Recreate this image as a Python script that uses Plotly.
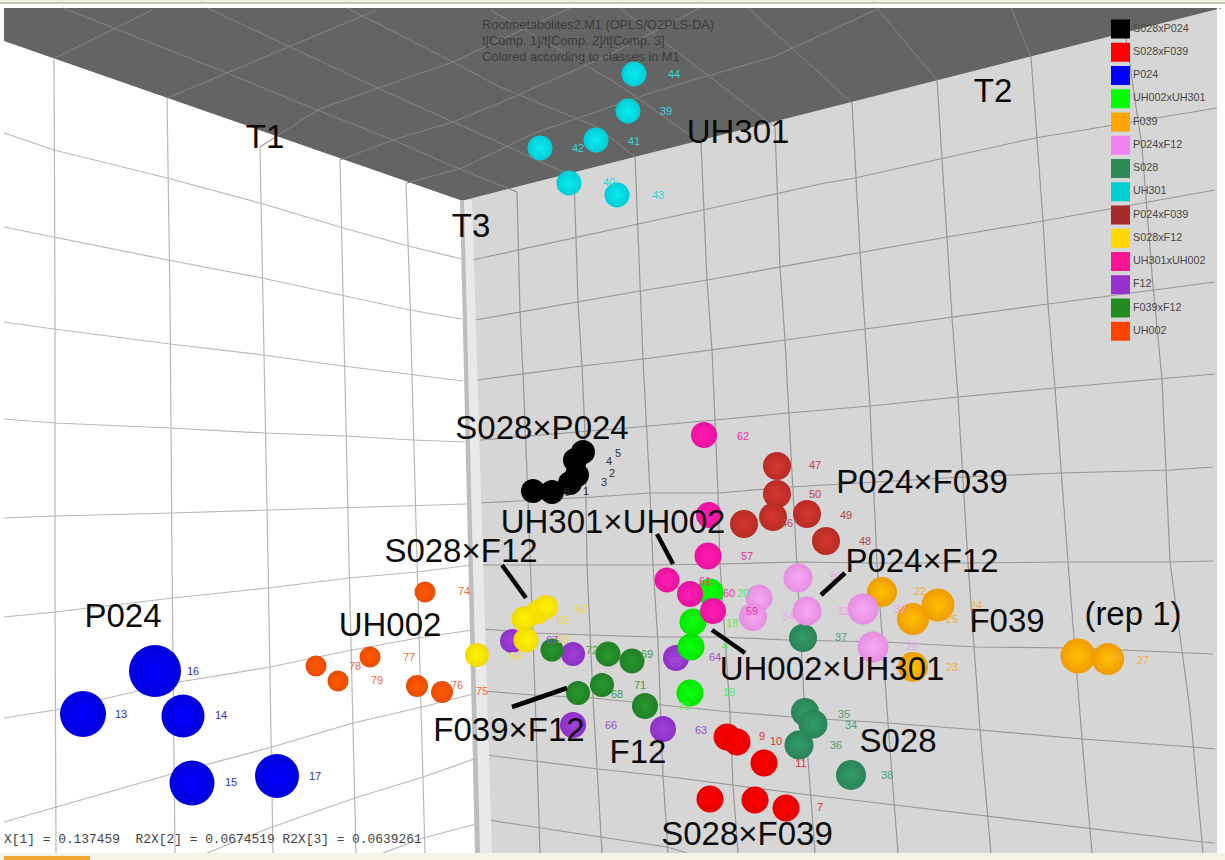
import plotly.graph_objects as go

# ---------- picture-space readings (x to the right, y downwards) ----------
classes = ["S028xP024", "S028xF039", "P024", "UH002xUH301", "F039", "P024xF12", "S028",
           "UH301", "P024xF039", "S028xF12", "UH301xUH002", "F12", "F039xF12", "UH002"]
legend_colors = ["#000000", "#FF0000", "#0000FF", "#00FF00", "#FFA500", "#EE82EE", "#2E8B57",
                 "#00CED1", "#A52A2A", "#FFD700", "#FF1493", "#9932CC", "#228B22", "#FF4500"]
legend_x = [1120.5] * 14
legend_y = [29 + 23.25 * i for i in range(14)]

sphere_center = {"S028xP024": "#000000", "S028xF039": "#ff0000", "P024": "#0000ff",
                 "UH002xUH301": "#10ff10", "F039": "#ffc000", "P024xF12": "#f8a8f4",
                 "S028": "#329c6a", "UH301": "#08ecf0", "P024xF039": "#d6362e",
                 "S028xF12": "#fff400", "UH301xUH002": "#ff1cb4", "F12": "#a040dc",
                 "F039xF12": "#27982c", "UH002": "#ff5a00"}
sphere_edge = {"S028xP024": "#000000", "S028xF039": "#e80000", "P024": "#0000dc",
               "UH002xUH301": "#00e800", "F039": "#f09c00", "P024xF12": "#e68ee2",
               "S028": "#2a8458", "UH301": "#00ccd6", "P024xF039": "#b82c26",
               "S028xF12": "#f2da00", "UH301xUH002": "#ea12a0", "F12": "#8e30c4",
               "F039xF12": "#208026", "UH002": "#ea4c00"}
label_color = {"S028xP024": "#333333", "S028xF039": "#e83030", "P024": "#3030c8",
               "UH002xUH301": "#50f050", "F039": "#f4b040", "P024xF12": "#f0a0e8",
               "S028": "#4f9f78", "UH301": "#30d8dc", "P024xF039": "#b04848",
               "S028xF12": "#f0d840", "UH301xUH002": "#f030a8", "F12": "#a050d0",
               "F039xF12": "#449a4a", "UH002": "#f06838"}

S028xP024_x = [533, 552, 570, 577, 575, 583]
S028xP024_y = [491, 492, 483, 475, 460, 452]
S028xP024_d = [24, 24, 24, 24, 24, 24]
S028xP024_lx = [567, 586, 604, 612, 609, 618]
S028xP024_ly = [493, 492, 483, 474, 462, 454]
S028xP024_lt = ["6", "1", "3", "2", "4", "5"]

S028xF039_x = [727, 737, 764, 710, 755, 786]
S028xF039_y = [737, 742, 763, 799, 800, 808]
S028xF039_d = [27, 27, 27, 27, 27, 27]
S028xF039_lx = [762, 776, 801, 820]
S028xF039_ly = [737, 742, 764, 808]
S028xF039_lt = ["9", "10", "11", "7"]

P024_x = [155, 83, 183, 192, 277]
P024_y = [671, 714, 716, 783, 776]
P024_d = [52, 46, 43, 45, 44]
P024_lx = [193, 121, 221, 231, 315]
P024_ly = [672, 715, 716, 783, 777]
P024_lt = ["16", "13", "14", "15", "17"]

UH002xUH301_x = [710, 693, 691, 690]
UH002xUH301_y = [592, 622, 647, 693]
UH002xUH301_d = [27, 27, 27, 27]
UH002xUH301_lx = [743, 732, 725, 729, 684]
UH002xUH301_ly = [594, 624, 647, 693, 707]
UH002xUH301_lt = ["20", "18", "4", "19", "70"]

F039_x = [882, 938, 913, 913, 1078, 1108]
F039_y = [592, 605, 619, 667, 656, 659]
F039_d = [30, 33, 32, 30, 35, 32]
F039_lx = [920, 976, 952, 952, 1117, 1143]
F039_ly = [592, 606, 620, 668, 657, 661]
F039_lt = ["22", "24", "25", "23", "26", "27"]

P024xF12_x = [759, 753, 798, 807, 863, 873]
P024xF12_y = [598, 617, 578, 611, 609, 647]
P024xF12_d = [27, 28, 29, 29, 31, 31]
P024xF12_lx = [788, 835, 843, 900, 912]
P024xF12_ly = [617, 578, 612, 610, 647]
P024xF12_lt = ["34", "30", "33", "32", "29"]

S028_x = [803, 805, 813, 799, 851]
S028_y = [638, 712, 724, 745, 775]
S028_d = [28, 28, 29, 29, 30]
S028_lx = [841, 844, 851, 836, 887]
S028_ly = [638, 715, 726, 746, 776]
S028_lt = ["37", "35", "34", "36", "38"]

UH301_x = [634, 628, 596, 540, 569, 617]
UH301_y = [74, 111, 140, 148, 183, 195]
UH301_d = [25, 25, 25, 25, 25, 25]
UH301_lx = [674, 666, 634, 578, 609, 658]
UH301_ly = [75, 112, 142, 149, 183, 196]
UH301_lt = ["44", "39", "41", "42", "40", "43"]

P024xF039_x = [777, 777, 773, 744, 807, 826]
P024xF039_y = [466, 494, 517, 524, 514, 541]
P024xF039_d = [28, 28, 28, 28, 28, 28]
P024xF039_lx = [815, 815, 846, 865, 787]
P024xF039_ly = [466, 495, 516, 542, 524]
P024xF039_lt = ["47", "50", "49", "48", "46"]

S028xF12_x = [538, 546, 524, 526, 477]
S028xF12_y = [612, 607, 619, 640, 655]
S028xF12_d = [24, 24, 25, 25, 24]
S028xF12_lx = [582, 563, 516, 563]
S028xF12_ly = [610, 621, 657, 640]
S028xF12_lt = ["52", "55", "54", "53"]

UH301xUH002_x = [704, 709, 708, 667, 690, 713]
UH301xUH002_y = [435, 515, 556, 580, 594, 611]
UH301xUH002_d = [26, 26, 27, 25, 26, 26]
UH301xUH002_lx = [743, 747, 705, 729, 752]
UH301xUH002_ly = [437, 557, 582, 594, 612]
UH301xUH002_lt = ["62", "57", "61", "60", "59"]

F12_x = [512, 573, 676, 573, 663]
F12_y = [641, 654, 658, 725, 729]
F12_d = [24, 24, 26, 26, 26]
F12_lx = [715, 611, 701, 552, 676]
F12_ly = [658, 726, 731, 641, 663]
F12_lt = ["64", "66", "63", "67", "65"]

F039xF12_x = [552, 608, 632, 578, 602, 645]
F039xF12_y = [650, 654, 661, 693, 685, 706]
F039xF12_d = [23, 25, 25, 24, 24, 26]
F039xF12_lx = [592, 647, 617, 640]
F039xF12_ly = [651, 655, 695, 686]
F039xF12_lt = ["72", "69", "68", "71"]

UH002_x = [425, 316, 370, 338, 417, 442]
UH002_y = [592, 666, 657, 681, 686, 692]
UH002_d = [21, 21, 21, 21, 22, 22]
UH002_lx = [464, 355, 409, 377, 457, 482]
UH002_ly = [592, 667, 658, 681, 686, 692]
UH002_lt = ["74", "78", "77", "79", "76", "75"]

points = {
    "S028xP024": (S028xP024_x, S028xP024_y, S028xP024_d, S028xP024_lx, S028xP024_ly, S028xP024_lt),
    "S028xF039": (S028xF039_x, S028xF039_y, S028xF039_d, S028xF039_lx, S028xF039_ly, S028xF039_lt),
    "P024": (P024_x, P024_y, P024_d, P024_lx, P024_ly, P024_lt),
    "UH002xUH301": (UH002xUH301_x, UH002xUH301_y, UH002xUH301_d, UH002xUH301_lx, UH002xUH301_ly, UH002xUH301_lt),
    "F039": (F039_x, F039_y, F039_d, F039_lx, F039_ly, F039_lt),
    "P024xF12": (P024xF12_x, P024xF12_y, P024xF12_d, P024xF12_lx, P024xF12_ly, P024xF12_lt),
    "S028": (S028_x, S028_y, S028_d, S028_lx, S028_ly, S028_lt),
    "UH301": (UH301_x, UH301_y, UH301_d, UH301_lx, UH301_ly, UH301_lt),
    "P024xF039": (P024xF039_x, P024xF039_y, P024xF039_d, P024xF039_lx, P024xF039_ly, P024xF039_lt),
    "S028xF12": (S028xF12_x, S028xF12_y, S028xF12_d, S028xF12_lx, S028xF12_ly, S028xF12_lt),
    "UH301xUH002": (UH301xUH002_x, UH301xUH002_y, UH301xUH002_d, UH301xUH002_lx, UH301xUH002_ly, UH301xUH002_lt),
    "F12": (F12_x, F12_y, F12_d, F12_lx, F12_ly, F12_lt),
    "F039xF12": (F039xF12_x, F039xF12_y, F039xF12_d, F039xF12_lx, F039xF12_ly, F039xF12_lt),
    "UH002": (UH002_x, UH002_y, UH002_d, UH002_lx, UH002_ly, UH002_lt),
}
draw_order = ["UH301", "P024", "UH002", "S028xP024", "S028xF039", "S028", "P024xF039", "F12",
              "F039xF12", "S028xF12", "F039", "P024xF12", "UH002xUH301", "UH301xUH002"]

# ---------- box walls ----------
ceiling_x = [4, 1222, 465, 460, 4]
ceiling_y = [8, 8, 200, 200, 41]
left_wall_x = [4, 460, 478, 478, 4]
left_wall_y = [41, 200, 200, 853, 853]
right_wall_x = [465, 1222, 1217, 1217, 480]
right_wall_y = [200, 8, 8, 853, 853]
pillar_x = [462, 472, 492, 476]
pillar_y = [200, 200, 853, 853]
pillar_dark_x = [460, 464, 480, 475]
pillar_dark_y = [200, 200, 853, 853]

left_grid = [
    [(4, 133), (54, 150), (167, 178), (260, 203), (340, 227), (408, 246), (462, 259)],
    [(4, 227), (54, 237), (168, 260), (262, 278), (342, 295), (410, 310), (462, 319)],
    [(4, 322), (54, 329), (170, 344), (263, 355), (343, 366), (410, 374), (463, 381)],
    [(4, 419), (55, 423), (170, 428), (265, 433), (345, 436), (413, 440), (465, 442)],
    [(4, 518), (55, 516), (172, 513), (267, 510), (347, 508), (415, 506), (467, 504)],
    [(4, 617), (55, 612), (173, 598), (268, 588), (349, 578), (417, 572), (472, 565)],
    [(4, 718), (55, 710), (173, 683), (270, 667), (352, 650), (418, 638), (473, 630)],
    [(4, 822), (56, 807), (175, 773), (272, 747), (353, 723), (422, 707), (477, 693)],
    [(207, 853), (272, 827), (355, 798), (423, 777), (477, 758)],
    [(383, 853), (423, 838), (480, 823)],
    [(54, 58), (55, 300), (55, 600), (56, 853)],
    [(167, 98), (170, 300), (172, 560), (175, 853)],
    [(260, 147), (263, 300), (268, 560), (273, 853)],
    [(340, 160), (343, 300), (349, 560), (356, 853)],
    [(406, 183), (410, 300), (417, 560), (425, 853)],
]
right_grid = [
    [(472, 260), (575, 238), (637, 224), (703, 210), (825, 183), (855, 178), (940, 159), (1035, 138), (1217, 108)],
    [(475, 320), (520, 312), (578, 302), (640, 291), (707, 280), (780, 267), (860, 252), (947, 237), (1043, 221), (1215, 190)],
    [(477, 380), (523, 374), (582, 366), (643, 359), (712, 350), (785, 340), (865, 329), (952, 317), (1048, 304), (1215, 282)],
    [(480, 440), (627, 428), (715, 420), (788, 413), (870, 406), (958, 397), (1055, 388), (1162, 379), (1215, 374)],
    [(480, 503), (593, 497), (650, 493), (718, 493), (790, 487), (873, 482), (962, 477), (1062, 473), (1170, 470), (1213, 467)],
    [(483, 565), (587, 565), (653, 565), (720, 564), (797, 562), (877, 563), (968, 563), (1068, 562), (1170, 562), (1213, 561)],
    [(483, 629), (533, 633), (590, 635), (653, 637), (720, 637), (787, 640), (883, 642), (977, 647), (1075, 648), (1213, 654)],
    [(483, 691), (533, 695), (593, 698), (660, 705), (730, 712), (805, 718), (888, 723), (980, 730), (1082, 739), (1193, 747), (1215, 749)],
    [(486, 755), (598, 769), (663, 776), (733, 785), (810, 795), (895, 805), (987, 816), (1090, 829), (1203, 842), (1215, 843)],
    [(488, 820), (600, 837), (667, 847), (687, 853)],
    [(517, 192), (520, 312), (523, 374), (527, 473), (535, 693), (540, 853)],
    [(574, 177), (578, 302), (582, 366), (585, 433), (587, 565), (593, 698), (602, 853)],
    [(635, 157), (640, 291), (643, 359), (650, 493), (653, 565), (658, 643), (663, 776), (668, 853)],
    [(701, 143), (707, 280), (712, 350), (718, 493), (720, 564), (730, 712), (733, 785), (738, 853)],
    [(775, 127), (780, 267), (785, 340), (793, 487), (797, 562), (805, 718), (815, 853)],
    [(852, 103), (860, 252), (865, 329), (870, 406), (877, 563), (888, 723), (898, 853)],
    [(937, 80), (947, 237), (952, 317), (958, 397), (968, 563), (980, 730), (991, 853)],
    [(1031, 57), (1043, 221), (1048, 304), (1055, 388), (1068, 562), (1082, 739), (1092, 853)],
    [(1125, 32), (1142, 147), (1153, 286), (1162, 379), (1170, 562), (1190, 710), (1203, 853)],
]
ceiling_grid = [
    [(63, 8), (113, 28), (227, 73), (317, 110), (393, 140), (450, 165), (517, 192)],
    [(207, 8), (290, 47), (378, 88), (453, 122), (500, 143), (574, 177)],
    [(347, 8), (453, 62), (500, 87), (597, 127), (635, 157)],
    [(490, 10), (560, 50), (619, 85), (701, 143)],
    [(620, 8), (775, 127)],
    [(748, 8), (852, 103)],
    [(877, 8), (937, 80)],
    [(1011, 8), (1031, 57)],
    [(55, 58), (152, 10)],
    [(167, 98), (227, 73), (290, 47), (377, 10)],
    [(260, 147), (317, 110), (378, 88), (453, 62), (500, 40), (570, 8)],
    [(340, 160), (393, 140), (453, 122), (500, 103), (609, 55), (700, 8)],
    [(407, 183), (462, 168), (535, 133), (659, 90), (773, 57), (880, 8)],
]

# ---------- texts ----------
big_text = ["T1", "T2", "T3", "UH301", "S028×P024", "P024×F039", "UH301×UH002", "S028×F12",
            "P024×F12", "F039", "(rep 1)", "P024", "UH002", "UH002×UH301", "F039×F12", "F12",
            "S028", "S028×F039"]
big_x = [265, 993, 471, 738, 542, 922, 613, 461, 922, 1007, 1133, 123, 390, 832, 509, 638, 898, 747]
big_y = [140, 94, 229, 135, 431, 485, 525, 554, 564, 624, 617, 619, 628, 672, 733, 755, 744, 837]

leaders = [
    [(502, 565), (526, 598)],
    [(657, 534), (673, 564)],
    [(712, 630), (745, 653)],
    [(512, 707), (567, 688)],
    [(821, 595), (845, 573)],
]
header_lines = ["Rootmetabolites2.M1 (OPLS/O2PLS-DA)", "t[Comp. 1]/t[Comp. 2]/t[Comp. 3]",
                "Colored according to classes in M1"]
header_x = [482, 482, 482]
header_y = [26, 42, 58]
footer_text = ["X[1] = 0.137459  R2X[2] = 0.0674519 R2X[3] = 0.0639261"]
footer_x = [4]
footer_y = [840]


def flatten(lines):
    xs, ys = [], []
    for line in lines:
        xs += [p[0] for p in line] + [None]
        ys += [p[1] for p in line] + [None]
    return xs, ys


fig = go.Figure()


def panel(xs, ys, color):
    fig.add_trace(go.Scatter(x=xs, y=ys, mode="lines", fill="toself", fillcolor=color,
                             line=dict(width=0, color=color), hoverinfo="skip"))


def grid(lines, color, width):
    xs, ys = flatten(lines)
    fig.add_trace(go.Scatter(x=xs, y=ys, mode="lines", line=dict(color=color, width=width),
                             hoverinfo="skip", connectgaps=False))


panel(left_wall_x, left_wall_y, "#ffffff")
panel(right_wall_x, right_wall_y, "#d6d6d6")
panel(ceiling_x, ceiling_y, "#646464")
grid(left_grid, "#b8b8b8", 1.2)
grid(right_grid, "#989898", 1.2)
grid(ceiling_grid, "#828282", 1.0)
panel(pillar_x, pillar_y, "#e9e9e9")
panel(pillar_dark_x, pillar_dark_y, "#bdbdbd")

for name in draw_order:
    px, py, pd, _, _, _ = points[name]
    fig.add_trace(go.Scatter(
        x=px, y=py, mode="markers", name=name,
        marker=dict(size=pd, opacity=1, color=sphere_edge[name], line=dict(width=0),
                    gradient=dict(type="radial", color=sphere_center[name]))))
for name in draw_order:
    _, _, _, lx, ly, lt = points[name]
    fig.add_trace(go.Scatter(x=lx, y=ly, mode="text", text=lt, textposition="middle center",
                             textfont=dict(family="Liberation Sans", size=11, color=label_color[name]),
                             hoverinfo="skip"))

# legend
fig.add_trace(go.Scatter(x=legend_x, y=legend_y, mode="markers",
                         marker=dict(symbol="square", size=19, opacity=1, color=legend_colors, line=dict(width=0)),
                         hovertext=classes, hoverinfo="text"))
fig.add_trace(go.Scatter(x=[1133] * 14, y=legend_y, mode="text", text=classes, textposition="middle right",
                         textfont=dict(family="Liberation Sans", size=10.8, color="#484848"), hoverinfo="skip"))
# header / footer
fig.add_trace(go.Scatter(x=header_x, y=header_y, mode="text", text=header_lines, textposition="middle right",
                         textfont=dict(family="Liberation Sans", size=12.7, color="#3c3c3c"), hoverinfo="skip"))
fig.add_trace(go.Scatter(x=footer_x, y=footer_y, mode="text", text=footer_text, textposition="middle right",
                         textfont=dict(family="Liberation Mono", size=12.9, color="#444444"), hoverinfo="skip"))
# hand-drawn leader strokes and big labels
lx, ly = flatten(leaders)
fig.add_trace(go.Scatter(x=lx, y=ly, mode="lines", line=dict(color="#000000", width=4.5), hoverinfo="skip"))
fig.add_trace(go.Scatter(x=big_x, y=big_y, mode="text", text=big_text, textposition="middle center",
                         textfont=dict(family="Liberation Sans", size=33, color="#0a0a0a"), hoverinfo="skip"))

# window chrome around the captured picture
fig.update_layout(
    width=1225, height=860, margin=dict(l=0, r=0, t=0, b=0), showlegend=False,
    paper_bgcolor="#ffffff", plot_bgcolor="#ffffff",
    xaxis=dict(range=[0, 1225], visible=False, fixedrange=True),
    yaxis=dict(range=[860, 0], visible=False, fixedrange=True),
    shapes=[
        dict(type="rect", xref="x", yref="y", x0=0, x1=1225, y0=853, y1=860, fillcolor="#f6f4e6", line_width=0, layer="above"),
        dict(type="rect", xref="x", yref="y", x0=4, x1=90, y0=856, y1=860, fillcolor="#f0a832", line_width=0, layer="above"),
        dict(type="rect", xref="x", yref="y", x0=0, x1=1225, y0=0, y1=2, fillcolor="#f0efe2", line_width=0, layer="above"),
        dict(type="rect", xref="x", yref="y", x0=0, x1=1225, y0=2, y1=4, fillcolor="#c6c6b4", line_width=0, layer="above"),
        dict(type="rect", xref="x", yref="y", x0=1217, x1=1219, y0=8, y1=853, fillcolor="#ffffff", line_width=0, layer="above"),
    ],
)

fig.write_html("out.html", config={"displayModeBar": False},
               post_script="document.body.style.margin='0';document.body.style.overflow='hidden';")
